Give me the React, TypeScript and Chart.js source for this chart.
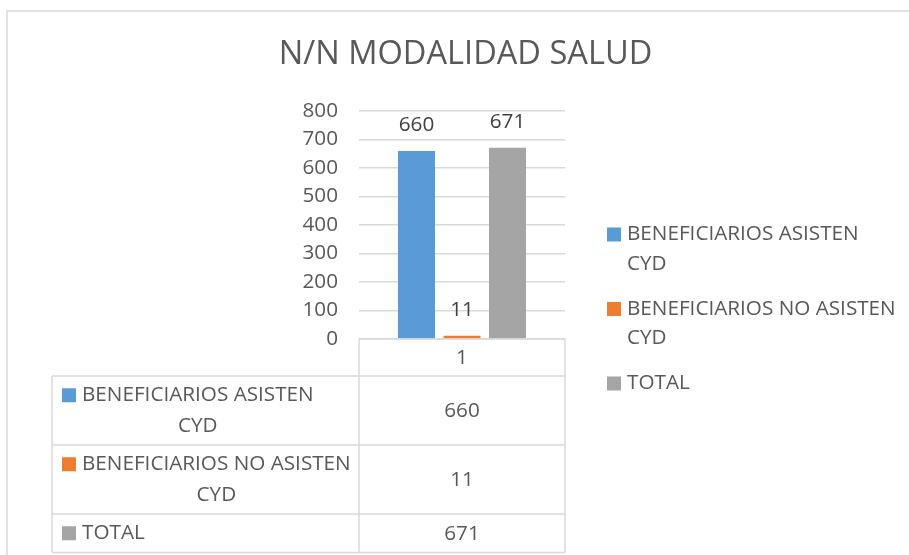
import { useEffect, useRef } from "react";
import { Chart, registerables } from "chart.js";

Chart.register(...registerables);

const chartTitle = "N/N MODALIDAD SALUD";
const categories = ["1"];
const seriesLabelLines = [
  ["BENEFICIARIOS ASISTEN", "CYD"],
  ["BENEFICIARIOS NO ASISTEN", "CYD"],
  ["TOTAL"],
];
const seriesValues = [[660], [11], [671]];
const seriesColors = ["#5B9BD5", "#ED7D31", "#A5A5A5"];
const yMin = 0;
const yMax = 800;
const yStep = 100;

const FONT = "'Open Sans', sans-serif";
const FS = 20.7;
const TEXT = "#595959";
const LINE = "#D9D9D9";

const decorPlugin = {
  id: "decor",
  beforeDraw(chart: any) {
    const { ctx, width, height } = chart;
    ctx.save();
    ctx.fillStyle = "#ffffff";
    ctx.fillRect(0, 0, width, height);
    ctx.strokeStyle = LINE;
    ctx.lineWidth = 1.5;
    ctx.strokeRect(7, 11, width + 20, height + 20);
    ctx.fillStyle = TEXT;
    ctx.font = `32.6px ${FONT}`;
    ctx.textAlign = "center";
    ctx.textBaseline = "middle";
    ctx.fillText(chartTitle, 465.5, 55);
    ctx.restore();
  },
  afterDatasetsDraw(chart: any) {
    const { ctx } = chart;
    ctx.save();
    ctx.fillStyle = "#404040";
    ctx.font = `${FS}px ${FONT}`;
    ctx.textAlign = "center";
    ctx.textBaseline = "middle";
    chart.data.datasets.forEach((ds: any, i: number) => {
      const meta = chart.getDatasetMeta(i);
      meta.data.forEach((bar: any, j: number) => {
        ctx.fillText(String(ds.data[j]), bar.x, bar.y - 25.5);
      });
    });
    ctx.restore();
  },
  afterDraw(chart: any) {
    const { ctx, chartArea } = chart;
    const xScale = chart.scales.x;
    const L = chartArea.left;
    const R = chartArea.right;
    const B = chartArea.bottom;
    const tableLeft = 52;
    const headerH = 37;
    const lineGap = 30.5;
    ctx.save();
    ctx.strokeStyle = LINE;
    ctx.lineWidth = 1.5;
    ctx.font = `${FS}px ${FONT}`;
    ctx.textBaseline = "middle";

    const rowsH = seriesLabelLines.map((l) => 8 + lineGap * l.length);
    const tableBottom = B + headerH + rowsH.reduce((a, b) => a + b, 0);
    ctx.beginPath();
    ctx.moveTo(L, B);
    ctx.lineTo(R, B);
    ctx.moveTo(L, B);
    ctx.lineTo(L, tableBottom);
    ctx.moveTo(R, B);
    ctx.lineTo(R, tableBottom);
    ctx.moveTo(tableLeft, B + headerH);
    ctx.lineTo(tableLeft, tableBottom);
    ctx.stroke();

    ctx.fillStyle = TEXT;
    ctx.textAlign = "center";
    categories.forEach((c, k) => {
      ctx.fillText(c, xScale.getPixelForTick(k), B + headerH / 2 + 1);
    });

    let y = B + headerH;
    seriesLabelLines.forEach((lines, i) => {
      const h = rowsH[i];
      ctx.beginPath();
      ctx.moveTo(tableLeft, y);
      ctx.lineTo(R, y);
      ctx.stroke();
      const cy = y + h / 2;
      const w = Math.max(...lines.map((t) => ctx.measureText(t).width));
      const x0 = tableLeft + 30;
      const firstY = cy - ((lines.length - 1) * lineGap) / 2;
      ctx.fillStyle = seriesColors[i];
      ctx.fillRect(tableLeft + 10, firstY - 7, 14, 14);
      ctx.fillStyle = TEXT;
      ctx.textAlign = "center";
      lines.forEach((t, k) => {
        ctx.fillText(t, x0 + w / 2, firstY + k * lineGap);
      });
      seriesValues[i].forEach((v, k) => {
        ctx.fillText(String(v), xScale.getPixelForTick(k), cy + 1);
      });
      y += h;
    });
    ctx.beginPath();
    ctx.moveTo(tableLeft, y);
    ctx.lineTo(R, y);
    ctx.stroke();

    let ly = 234.5;
    ctx.textAlign = "left";
    seriesLabelLines.forEach((lines, i) => {
      ctx.fillStyle = seriesColors[i];
      ctx.fillRect(607, ly - 7, 14, 14);
      ctx.fillStyle = TEXT;
      lines.forEach((t, k) => {
        ctx.fillText(t, 627, ly + k * 29.5);
      });
      ly += (lines.length - 1) * 29.5 + 45;
    });
    ctx.restore();
  },
};

export default function App() {
  const ref = useRef<HTMLCanvasElement | null>(null);
  useEffect(() => {
    if (!ref.current) return;
    const chart = new Chart(ref.current, {
      type: "bar",
      data: {
        labels: categories,
        datasets: seriesLabelLines.map((lines, i) => ({
          label: lines.join(" "),
          data: seriesValues[i],
          backgroundColor: seriesColors[i],
          borderWidth: 0,
          categoryPercentage: 0.6626,
          barPercentage: 0.813,
        })),
      },
      options: {
        responsive: false,
        animation: false,
        devicePixelRatio: 1,
        layout: { padding: { top: 111, left: 0, right: 344, bottom: 216 } },
        plugins: {
          legend: { display: false },
          title: { display: false },
          tooltip: { enabled: false },
        },
        scales: {
          x: { display: false },
          y: {
            min: yMin,
            max: yMax,
            ticks: {
              stepSize: yStep,
              padding: 21,
              color: TEXT,
              font: { family: FONT, size: FS },
            },
            grid: { color: LINE, lineWidth: 1.5, drawTicks: false },
            border: { display: false },
            afterFit: (scale: any) => {
              scale.width = 359;
            },
          },
        },
      },
      plugins: [decorPlugin],
    });
    return () => chart.destroy();
  }, []);
  return (
    <div style={{ position: "fixed", left: 0, top: 0, width: 909, height: 555, background: "#fff" }}>
      <canvas ref={ref} width={909} height={555} style={{ width: 909, height: 555, display: "block" }} />
    </div>
  );
}
